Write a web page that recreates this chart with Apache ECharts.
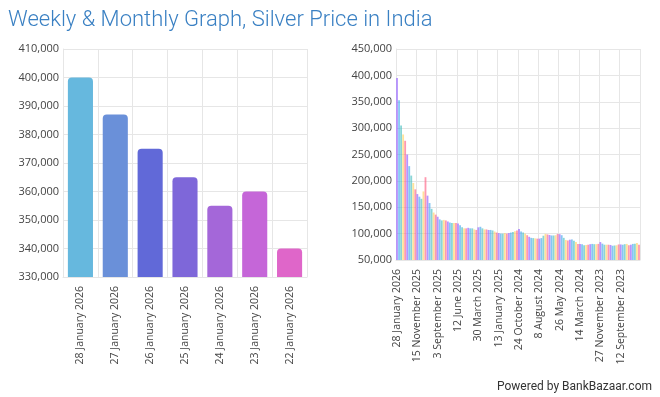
<!DOCTYPE html>
<html>
<head>
<meta charset="utf-8">
<script src="https://cdn.jsdelivr.net/npm/echarts@6/dist/echarts.min.js"></script>
<style>
html,body{margin:0;padding:0;background:#fff;}
#c{width:660px;height:397px;}
</style>
</head>
<body>
<div id="c"></div>
<script>
// ---- data ----
var weeklyDates = ['28 January 2026','27 January 2026','26 January 2026','25 January 2026','24 January 2026','23 January 2026','22 January 2026'];
var weeklyPrices = [400000, 387000, 375000, 365000, 355000, 360000, 340000];
var weeklyColors = ['#66b8de','#6a90d9','#6169d8','#7e67d9','#a467d9','#c566d8','#df66c9'];

var monthlyTickLabels = ['28 January 2026','15 November 2025','3 September 2025','12 June 2025','30 March 2025','13 January 2025','24 October 2024','8 August 2024','26 May 2024','14 March 2024','27 November 2023','12 September 2023'];
var monthlyPrices = [
  395000,353000,305000,288000,276000,250000,228000,210000,196000,184000,
  175000,170000,166000,180000,207000,172000,158000,147000,140000,136000,
  132000,127000,125000,126000,125000,123000,121000,120000,120000,120000,
  119000,116000,112000,110000,110000,111000,110000,110000,108000,107000,
  112000,113000,110000,108000,108000,107000,107000,106000,104000,102000,
  101000,100000,100000,101000,100000,101000,102000,103000,104500,106000,
  109000,104000,102000,100000,97000,94000,92000,91500,91000,90500,
  90500,91500,96000,99500,98500,97500,96500,96500,97000,99500,
  99000,97000,92000,88000,87000,88500,89000,86500,84000,80500,
  80500,80000,78000,78500,79000,80000,80500,80000,80000,80500,
  84000,81000,79000,79000,79000,78500,77000,77500,78000,79500,
  79500,79000,80000,80500,78000,79000,80500,81000,82000,79000
];
var monthlyPalette = ['rgba(153,102,255,0.7)','rgba(54,162,235,0.6)','rgba(75,192,192,0.65)','rgba(255,206,86,0.6)','rgba(255,99,132,0.65)'];

// categories: tick label every 10th bar, others unlabeled
var monthlyCats = monthlyPrices.map(function(v, i){
  return (i % 10 === 0 && monthlyTickLabels[i/10]) ? monthlyTickLabels[i/10] : '';
});

var FONT = 'Open Sans';
var gridColor = '#e6e6e6';
var labelColor = '#444';

var chart = echarts.init(document.getElementById('c'), null, {renderer:'canvas'});
chart.setOption({
  animation: false,
  title: {
    text: 'Weekly & Monthly Graph, Silver Price in India',
    left: 3, top: 4,
    textStyle: {fontFamily:'Roboto', fontWeight: 300, fontSize: 22, color:'#3a80c3'}
  },
  graphic: [{
    type:'text', right: 8, top: 381,
    style: {text:'Powered by BankBazaar.com', font:'12px Roboto', fill:'#333'}
  }],
  grid: [
    {left: 63, top: 49, width: 244, height: 228, containLabel:false},
    {left: 396, top: 49, width: 244, height: 211, containLabel:false}
  ],
  xAxis: [
    {
      type:'category', gridIndex:0, data: weeklyDates,
      axisLine:{lineStyle:{color:gridColor}},
      axisTick:{show:false},
      axisLabel:{rotate:90, interval:0, margin:9, color:labelColor, fontFamily:FONT, fontSize:10.5},
      splitLine:{show:true, interval:0, lineStyle:{color:gridColor}}
    },
    {
      type:'category', gridIndex:1, data: monthlyCats,
      axisLine:{lineStyle:{color:gridColor}},
      axisTick:{show:false},
      axisLabel:{rotate:90, interval:9, margin:9, color:labelColor, fontFamily:FONT, fontSize:10.5},
      splitLine:{show:true, interval:9, lineStyle:{color:gridColor}}
    }
  ],
  yAxis: [
    {
      type:'value', gridIndex:0, min:330000, max:410000, interval:10000,
      axisLine:{show:true, lineStyle:{color:gridColor}},
      axisTick:{show:false},
      axisLabel:{color:labelColor, fontFamily:FONT, fontSize:11, margin:4,
        formatter:function(v){return v.toLocaleString('en-US');}},
      splitLine:{lineStyle:{color:gridColor}}
    },
    {
      type:'value', gridIndex:1, min:50000, max:450000, interval:50000,
      axisLine:{show:true, lineStyle:{color:gridColor}},
      axisTick:{show:false},
      axisLabel:{color:labelColor, fontFamily:FONT, fontSize:11, margin:4,
        formatter:function(v){return v.toLocaleString('en-US');}},
      splitLine:{lineStyle:{color:gridColor}}
    }
  ],
  series: [
    {
      type:'bar', xAxisIndex:0, yAxisIndex:0, barWidth:'72%',
      data: weeklyPrices.map(function(v,i){
        return {value:v, itemStyle:{color:weeklyColors[i], borderRadius:[4,4,0,0]}};
      })
    },
    {
      type:'bar', xAxisIndex:1, yAxisIndex:1, barCategoryGap:'10%',
      data: monthlyPrices.map(function(v,i){
        return {value:v, itemStyle:{color:monthlyPalette[i % monthlyPalette.length]}};
      })
    }
  ]
});
</script>
</body>
</html>
